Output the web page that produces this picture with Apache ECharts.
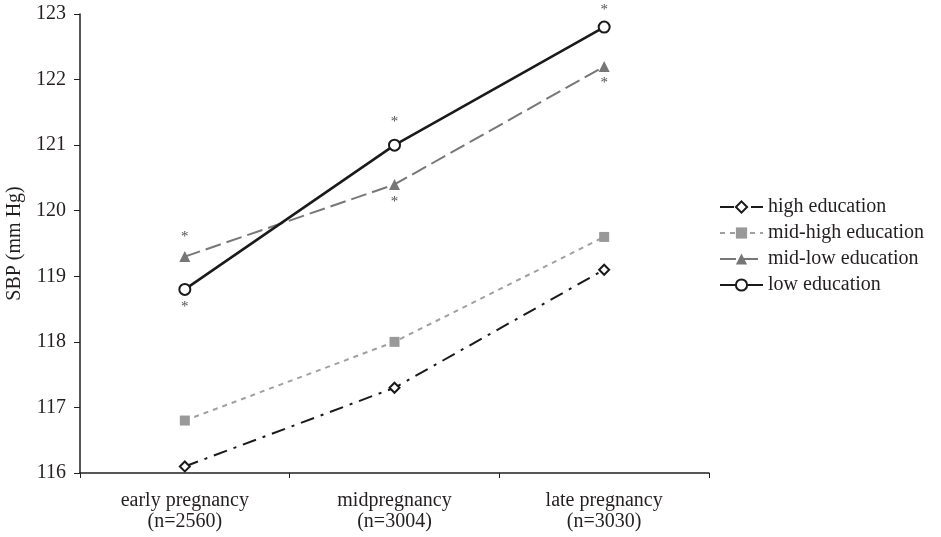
<!DOCTYPE html>
<html><head><meta charset="utf-8">
<script src="https://cdn.jsdelivr.net/npm/echarts@6/dist/echarts.min.js"></script>
<style>html,body{margin:0;padding:0;background:#fff}#c{width:941px;height:537px}</style>
</head><body><div id="c"></div>
<script>
const categories = ['early pregnancy\n(n=2560)', 'midpregnancy\n(n=3004)', 'late pregnancy\n(n=3030)'];
const highEdu = [116.1, 117.3, 119.1];
const midHighEdu = [116.8, 118.0, 119.6];
const midLowEdu = [119.3, 120.4, 122.2];
const lowEdu = [118.8, 121.0, 122.8];
const starPoints = [[0, 119.65], [0, 118.57], [1, 121.4], [1, 120.18], [2, 123.1], [2, 122.0]];
const yTicks = {min: 116, max: 123, interval: 1};

const font = 'Liberation Serif';
const txt = '#231f20';
const chart = echarts.init(document.getElementById('c'));
chart.setOption({
  animation: false,
  textStyle: {fontFamily: font},
  grid: {left: 80, top: 14, width: 629, height: 459, outerBoundsMode: 'none', containLabel: false},
  legend: {
    orient: 'vertical', left: 719, top: 197, padding: 0, itemGap: 6, itemWidth: 43, itemHeight: 14,
    textStyle: {fontFamily: font, fontSize: 20, color: txt},
    data: ['high education', 'mid-high education', 'mid-low education', 'low education']
  },
  xAxis: {
    type: 'category', data: categories, boundaryGap: true,
    axisLine: {lineStyle: {color: '#231f20', width: 1.5}},
    axisTick: {show: true, length: 5, lineStyle: {color: '#231f20'}},
    axisLabel: {fontFamily: font, fontSize: 20, color: txt, lineHeight: 21, margin: 17}
  },
  yAxis: {
    type: 'value', min: yTicks.min, max: yTicks.max, interval: yTicks.interval,
    name: 'SBP (mm Hg)', nameLocation: 'middle', nameGap: 54, nameRotate: 90,
    nameTextStyle: {fontFamily: font, fontSize: 20, color: txt},
    splitLine: {show: false},
    axisLine: {show: true, lineStyle: {color: '#231f20', width: 1.5}},
    axisTick: {show: true, length: 6, lineStyle: {color: '#231f20'}},
    axisLabel: {fontFamily: font, fontSize: 20, color: txt, margin: 14}
  },
  series: [
    {name: 'high education', type: 'line', data: highEdu, symbol: 'diamond', symbolSize: 10,
     itemStyle: {color: '#fff', borderColor: '#1a1a1a', borderWidth: 2},
     lineStyle: {color: '#1a1a1a', width: 2, type: [14, 7, 3, 7]}, z: 3},
    {name: 'mid-high education', type: 'line', data: midHighEdu, symbol: 'rect', symbolSize: 10,
     itemStyle: {color: '#999999'},
     lineStyle: {color: '#a0a0a0', width: 2, type: [5, 5]}, z: 2},
    {name: 'mid-low education', type: 'line', data: midLowEdu, symbol: 'triangle', symbolSize: 11,
     itemStyle: {color: '#777777'},
     lineStyle: {color: '#777777', width: 2, type: [16, 6]}, z: 2},
    {name: 'low education', type: 'line', data: lowEdu, symbol: 'circle', symbolSize: 11,
     itemStyle: {color: '#fff', borderColor: '#1a1a1a', borderWidth: 2},
     lineStyle: {color: '#1a1a1a', width: 2.5}, z: 4},
    {name: 'stars', type: 'scatter', data: starPoints, symbolSize: 0, clip: false, silent: true,
     label: {show: true, formatter: '*', position: 'inside', fontFamily: font, fontSize: 15, color: '#222', offset: [0, 3]}}
  ]
});
</script></body></html>
